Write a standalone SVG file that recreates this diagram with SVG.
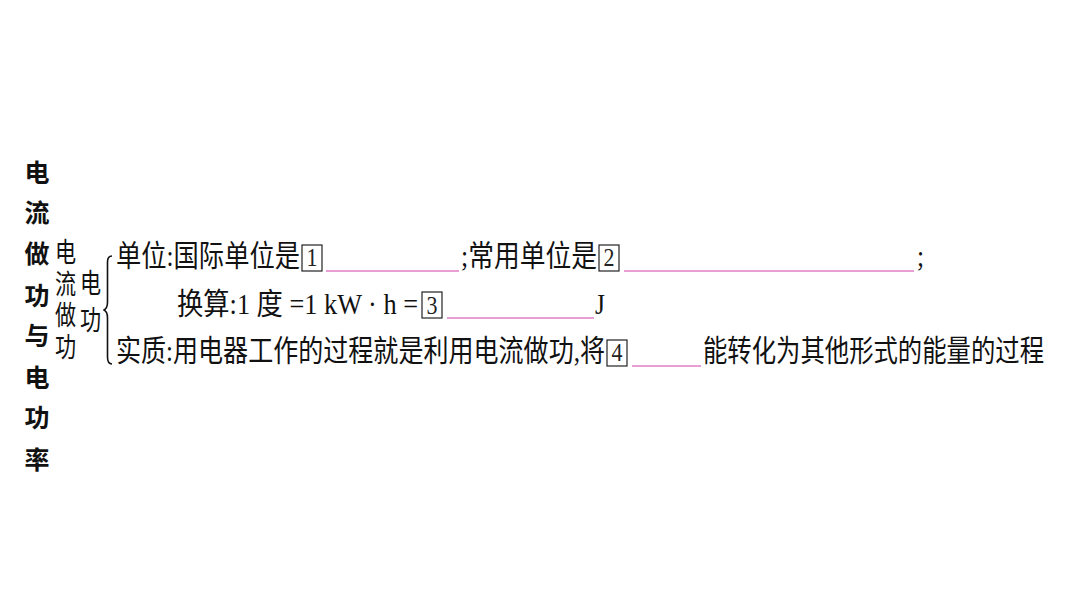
<svg xmlns="http://www.w3.org/2000/svg" width="1066" height="600" viewBox="0 0 1066 600">
<style>
.t{font-family:"Liberation Serif","Noto Sans CJK SC",serif;font-size:25.5px;fill:#111}
.title{font-family:"Noto Sans CJK SC","Noto Sans",sans-serif;font-size:25px;font-weight:bold;fill:#111;text-anchor:middle}
.sub{font-family:"Liberation Serif","Noto Sans CJK SC",serif;font-size:24px;fill:#111}
.box{fill:none;stroke:#222;stroke-width:1.2}
.num{font-family:"Liberation Serif",serif;font-size:22px;fill:#222;text-anchor:middle}
.ul{stroke:#e07cc4;stroke-width:1.4}
</style>
<rect width="1066" height="600" fill="#fff"/>
<g id="title">
<text class="title" x="37" y="182">电</text>
<text class="title" x="37" y="222">流</text>
<text class="title" x="37" y="263">做</text>
<text class="title" x="37" y="305">功</text>
<text class="title" x="37" y="345">与</text>
<text class="title" x="37" y="387">电</text>
<text class="title" x="37" y="427">功</text>
<text class="title" x="37" y="469">率</text>
</g>
<g id="sub1">
<text class="sub" transform="translate(55,262) scale(0.88,1.15)">电</text>
<text class="sub" transform="translate(55,294) scale(0.88,1.15)">流</text>
<text class="sub" transform="translate(55,325) scale(0.88,1.15)">做</text>
<text class="sub" transform="translate(55,357) scale(0.88,1.15)">功</text>
</g>
<g id="sub2">
<text class="sub" transform="translate(80,293) scale(0.88,1.15)">电</text>
<text class="sub" transform="translate(80,330) scale(0.88,1.15)">功</text>
</g>
<g id="connectors">
<path d="M112,256 Q107.5,256 107.5,262 L107.5,302 Q107.5,309 103.5,310 Q107.5,311 107.5,318 L107.5,357 Q107.5,364 112,364" fill="none" stroke="#111" stroke-width="1.6"/>
</g>
<g id="line1">
<g transform="translate(0,266) scale(1,1.15)">
<text class="t" x="116" y="0" textLength="184" lengthAdjust="spacingAndGlyphs">单位:国际单位是</text>
<text class="t" x="461" y="0" textLength="136" lengthAdjust="spacingAndGlyphs">;常用单位是</text>
<text class="t" x="917" y="0">;</text>
<text class="num" x="312" y="0">1</text>
<text class="num" x="609" y="0">2</text>
</g>
<rect class="box" x="302" y="245" width="20" height="26"/>
<line class="ul" x1="326" y1="271" x2="459" y2="271"/>
<rect class="box" x="599" y="245" width="20" height="26"/>
<line class="ul" x1="624" y1="271" x2="914" y2="271"/>
</g>
<g id="line2">
<g transform="translate(0,314) scale(1,1.15)">
<text class="t" x="177" y="0" textLength="241" lengthAdjust="spacingAndGlyphs">换算:1 度 =1 kW · h =</text>
<text class="num" x="432" y="0">3</text>
<text class="t" x="595" y="0">J</text>
</g>
<rect class="box" x="422" y="292" width="20" height="26"/>
<line class="ul" x1="447" y1="318" x2="594" y2="318"/>
</g>
<g id="line3">
<g transform="translate(0,361) scale(1,1.15)">
<text class="t" x="116" y="0" textLength="489" lengthAdjust="spacingAndGlyphs">实质:用电器工作的过程就是利用电流做功,将</text>
<text class="num" x="617" y="0">4</text>
<text class="t" x="703" y="0" textLength="341" lengthAdjust="spacingAndGlyphs">能转化为其他形式的能量的过程</text>
</g>
<rect class="box" x="607" y="340" width="20" height="26"/>
<line class="ul" x1="632" y1="366" x2="701" y2="366"/>
</g>
</svg>
